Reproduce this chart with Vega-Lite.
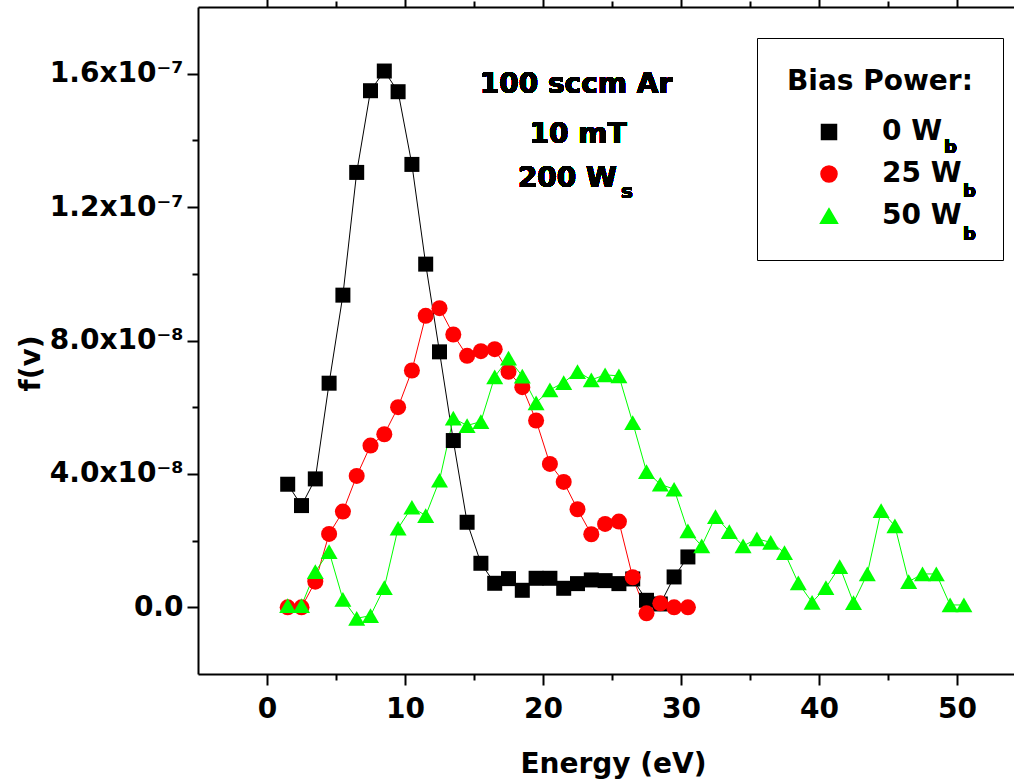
{
  "$schema": "https://vega.github.io/schema/vega-lite/v6.json",
  "width": 816,
  "height": 667,
  "autosize": {"type": "none"},
  "padding": {"left": 198, "top": 7, "right": 0, "bottom": 106},
  "background": "white",
  "config": {"view": {"stroke": null}, "font": "DejaVu Sans"},
  "data": {"values": [
    {"bias": "0 W", "E": 1.5, "f": 3.69e-8},
    {"bias": "0 W", "E": 2.5, "f": 3.05e-8},
    {"bias": "0 W", "E": 3.5, "f": 3.85e-8},
    {"bias": "0 W", "E": 4.5, "f": 6.72e-8},
    {"bias": "0 W", "E": 5.5, "f": 9.36e-8},
    {"bias": "0 W", "E": 6.5, "f": 13.04e-8},
    {"bias": "0 W", "E": 7.5, "f": 15.49e-8},
    {"bias": "0 W", "E": 8.5, "f": 16.08e-8},
    {"bias": "0 W", "E": 9.5, "f": 15.46e-8},
    {"bias": "0 W", "E": 10.5, "f": 13.28e-8},
    {"bias": "0 W", "E": 11.5, "f": 10.29e-8},
    {"bias": "0 W", "E": 12.5, "f": 7.66e-8},
    {"bias": "0 W", "E": 13.5, "f": 5.0e-8},
    {"bias": "0 W", "E": 14.5, "f": 2.55e-8},
    {"bias": "0 W", "E": 15.5, "f": 1.32e-8},
    {"bias": "0 W", "E": 16.5, "f": 0.72e-8},
    {"bias": "0 W", "E": 17.5, "f": 0.86e-8},
    {"bias": "0 W", "E": 18.5, "f": 0.51e-8},
    {"bias": "0 W", "E": 19.5, "f": 0.87e-8},
    {"bias": "0 W", "E": 20.5, "f": 0.87e-8},
    {"bias": "0 W", "E": 21.5, "f": 0.57e-8},
    {"bias": "0 W", "E": 22.5, "f": 0.71e-8},
    {"bias": "0 W", "E": 23.5, "f": 0.82e-8},
    {"bias": "0 W", "E": 24.5, "f": 0.80e-8},
    {"bias": "0 W", "E": 25.5, "f": 0.71e-8},
    {"bias": "0 W", "E": 26.5, "f": 0.85e-8},
    {"bias": "0 W", "E": 27.5, "f": 0.21e-8},
    {"bias": "0 W", "E": 28.5, "f": 0.10e-8},
    {"bias": "0 W", "E": 29.5, "f": 0.91e-8},
    {"bias": "0 W", "E": 30.5, "f": 1.51e-8},
    {"bias": "25 W", "E": 1.5, "f": 0.0},
    {"bias": "25 W", "E": 2.5, "f": 0.0},
    {"bias": "25 W", "E": 3.5, "f": 0.77e-8},
    {"bias": "25 W", "E": 4.5, "f": 2.2e-8},
    {"bias": "25 W", "E": 5.5, "f": 2.87e-8},
    {"bias": "25 W", "E": 6.5, "f": 3.94e-8},
    {"bias": "25 W", "E": 7.5, "f": 4.85e-8},
    {"bias": "25 W", "E": 8.5, "f": 5.19e-8},
    {"bias": "25 W", "E": 9.5, "f": 6.0e-8},
    {"bias": "25 W", "E": 10.5, "f": 7.1e-8},
    {"bias": "25 W", "E": 11.5, "f": 8.74e-8},
    {"bias": "25 W", "E": 12.5, "f": 8.97e-8},
    {"bias": "25 W", "E": 13.5, "f": 8.18e-8},
    {"bias": "25 W", "E": 14.5, "f": 7.54e-8},
    {"bias": "25 W", "E": 15.5, "f": 7.68e-8},
    {"bias": "25 W", "E": 16.5, "f": 7.74e-8},
    {"bias": "25 W", "E": 17.5, "f": 7.06e-8},
    {"bias": "25 W", "E": 18.5, "f": 6.6e-8},
    {"bias": "25 W", "E": 19.5, "f": 5.6e-8},
    {"bias": "25 W", "E": 20.5, "f": 4.3e-8},
    {"bias": "25 W", "E": 21.5, "f": 3.76e-8},
    {"bias": "25 W", "E": 22.5, "f": 2.94e-8},
    {"bias": "25 W", "E": 23.5, "f": 2.19e-8},
    {"bias": "25 W", "E": 24.5, "f": 2.5e-8},
    {"bias": "25 W", "E": 25.5, "f": 2.57e-8},
    {"bias": "25 W", "E": 26.5, "f": 0.9e-8},
    {"bias": "25 W", "E": 27.5, "f": -0.18e-8},
    {"bias": "25 W", "E": 28.5, "f": 0.12e-8},
    {"bias": "25 W", "E": 29.5, "f": 0.0},
    {"bias": "25 W", "E": 30.5, "f": 0.0},
    {"bias": "50 W", "E": 1.5, "f": 0.05e-8},
    {"bias": "50 W", "E": 2.5, "f": 0.05e-8},
    {"bias": "50 W", "E": 3.5, "f": 1.07e-8},
    {"bias": "50 W", "E": 4.5, "f": 1.67e-8},
    {"bias": "50 W", "E": 5.5, "f": 0.24e-8},
    {"bias": "50 W", "E": 6.5, "f": -0.33e-8},
    {"bias": "50 W", "E": 7.5, "f": -0.25e-8},
    {"bias": "50 W", "E": 8.5, "f": 0.59e-8},
    {"bias": "50 W", "E": 9.5, "f": 2.37e-8},
    {"bias": "50 W", "E": 10.5, "f": 3.0e-8},
    {"bias": "50 W", "E": 11.5, "f": 2.75e-8},
    {"bias": "50 W", "E": 12.5, "f": 3.81e-8},
    {"bias": "50 W", "E": 13.5, "f": 5.67e-8},
    {"bias": "50 W", "E": 14.5, "f": 5.45e-8},
    {"bias": "50 W", "E": 15.5, "f": 5.57e-8},
    {"bias": "50 W", "E": 16.5, "f": 6.91e-8},
    {"bias": "50 W", "E": 17.5, "f": 7.47e-8},
    {"bias": "50 W", "E": 18.5, "f": 6.93e-8},
    {"bias": "50 W", "E": 19.5, "f": 6.13e-8},
    {"bias": "50 W", "E": 20.5, "f": 6.52e-8},
    {"bias": "50 W", "E": 21.5, "f": 6.74e-8},
    {"bias": "50 W", "E": 22.5, "f": 7.07e-8},
    {"bias": "50 W", "E": 23.5, "f": 6.82e-8},
    {"bias": "50 W", "E": 24.5, "f": 6.97e-8},
    {"bias": "50 W", "E": 25.5, "f": 6.94e-8},
    {"bias": "50 W", "E": 26.5, "f": 5.54e-8},
    {"bias": "50 W", "E": 27.5, "f": 4.07e-8},
    {"bias": "50 W", "E": 28.5, "f": 3.69e-8},
    {"bias": "50 W", "E": 29.5, "f": 3.54e-8},
    {"bias": "50 W", "E": 30.5, "f": 2.29e-8},
    {"bias": "50 W", "E": 31.5, "f": 1.84e-8},
    {"bias": "50 W", "E": 32.5, "f": 2.72e-8},
    {"bias": "50 W", "E": 33.5, "f": 2.27e-8},
    {"bias": "50 W", "E": 34.5, "f": 1.84e-8},
    {"bias": "50 W", "E": 35.5, "f": 2.05e-8},
    {"bias": "50 W", "E": 36.5, "f": 1.95e-8},
    {"bias": "50 W", "E": 37.5, "f": 1.64e-8},
    {"bias": "50 W", "E": 38.5, "f": 0.73e-8},
    {"bias": "50 W", "E": 39.5, "f": 0.15e-8},
    {"bias": "50 W", "E": 40.5, "f": 0.59e-8},
    {"bias": "50 W", "E": 41.5, "f": 1.22e-8},
    {"bias": "50 W", "E": 42.5, "f": 0.14e-8},
    {"bias": "50 W", "E": 43.5, "f": 1.0e-8},
    {"bias": "50 W", "E": 44.5, "f": 2.9e-8},
    {"bias": "50 W", "E": 45.5, "f": 2.44e-8},
    {"bias": "50 W", "E": 46.5, "f": 0.77e-8},
    {"bias": "50 W", "E": 47.5, "f": 1.0e-8},
    {"bias": "50 W", "E": 48.5, "f": 1.0e-8},
    {"bias": "50 W", "E": 49.5, "f": 0.07e-8},
    {"bias": "50 W", "E": 50.5, "f": 0.07e-8}
  ]},
  "layer": [
    {
      "mark": {"type": "line", "strokeWidth": 1, "clip": true},
      "encoding": {
        "x": {
          "field": "E", "type": "quantitative",
          "scale": {"domain": [-5, 54.13], "nice": false, "zero": false},
          "axis": {
            "orient": "bottom", "zindex": 1,
            "values": [0, 5, 10, 15, 20, 25, 30, 35, 40, 45, 50],
            "title": "Energy (eV)",
            "grid": false,
            "domainColor": "black", "domainWidth": 2,
            "tickColor": "black", "tickWidth": 2,
            "tickSize": {"condition": {"test": "datum.value % 10 === 0", "value": 11}, "value": 6},
            "labelExpr": "datum.value % 10 === 0 ? datum.label : ''",
            "labelFont": "DejaVu Sans", "labelFontSize": 28, "labelFontWeight": "bold", "labelColor": "black",
            "labelPadding": 10, "labelFlush": false, "labelOverlap": false,
            "titleFont": "DejaVu Sans", "titleFontSize": 28, "titleFontWeight": "bold", "titleColor": "black",
            "titleX": 415, "titleY": 98, "titleBaseline": "alphabetic", "titleAlign": "center"
          }
        },
        "y": {
          "field": "f", "type": "quantitative",
          "scale": {"domain": [-2e-8, 1.8e-7], "nice": false, "zero": false},
          "axis": {
            "orient": "left", "zindex": 1,
            "values": [0, 2e-8, 4e-8, 6e-8, 8e-8, 1e-7, 1.2e-7, 1.4e-7, 1.6e-7],
            "title": "f(v)",
            "grid": false,
            "domainColor": "black", "domainWidth": 2,
            "tickColor": "black", "tickWidth": 2,
            "tickSize": {"condition": {"test": "round(datum.value * 1e8) % 4 === 0", "value": 11}, "value": 6},
            "labelExpr": "round(datum.value * 1e8) % 4 !== 0 ? '' : round(datum.value * 1e8) === 0 ? '0.0' : round(datum.value * 1e8) === 4 ? '4.0x10⁻⁸' : round(datum.value * 1e8) === 8 ? '8.0x10⁻⁸' : round(datum.value * 1e8) === 12 ? '1.2x10⁻⁷' : '1.6x10⁻⁷'",
            "labelFont": "DejaVu Sans", "labelFontSize": 28, "labelFontWeight": "bold", "labelColor": "black",
            "labelPadding": 4, "labelFlush": false, "labelOverlap": false, "labelBaseline": "middle",
            "titleFont": "DejaVu Sans", "titleFontSize": 28, "titleFontWeight": "bold", "titleColor": "black",
            "titleX": -167, "titleY": 356, "titleAngle": -90, "titleAlign": "center", "titleBaseline": "middle"
          }
        },
        "color": {
          "field": "bias", "type": "nominal",
          "scale": {"domain": ["0 W", "25 W", "50 W"], "range": ["#000000", "#ff0000", "#00ff00"]},
          "legend": {
            "orient": "none", "legendX": 559, "legendY": 31,
            "title": "Bias Power:", "titleLimit": 400,
            "titleFont": "DejaVu Sans", "titleFontSize": 28, "titleFontWeight": "bold", "titleColor": "black",
            "titlePadding": 22,
            "labelFont": "DejaVu Sans", "labelFontSize": 28, "labelFontWeight": "bold", "labelColor": "black",
            "labelLimit": 300,
            "padding": 30, "strokeColor": "black",
            "symbolOffset": 28, "labelOffset": 39, "rowPadding": 14
          }
        }
      }
    },
    {
      "mark": {"type": "point", "filled": true, "opacity": 1, "clip": true},
      "encoding": {
        "x": {
          "field": "E", "type": "quantitative",
          "axis": {
            "orient": "top", "zindex": 1,
            "values": [0, 5, 10, 15, 20, 25, 30, 35, 40, 45, 50],
            "title": null, "labels": false, "grid": false,
            "domainColor": "black", "domainWidth": 2,
            "tickColor": "black", "tickWidth": 2,
            "tickSize": {"condition": {"test": "datum.value % 10 === 0", "value": 11}, "value": 6}
          }
        },
        "y": {"field": "f", "type": "quantitative", "axis": null},
        "color": {"field": "bias", "type": "nominal"},
        "shape": {
          "field": "bias", "type": "nominal",
          "scale": {"domain": ["0 W", "25 W", "50 W"], "range": ["square", "circle", "triangle-up"]},
          "legend": null
        },
        "size": {
          "field": "bias", "type": "nominal",
          "scale": {"domain": ["0 W", "25 W", "50 W"], "range": [225, 289, 361]},
          "legend": null
        }
      }
    },
    {
      "mark": {"type": "text", "text": "100 sccm Ar", "font": "DejaVu Sans", "fontSize": 28, "fontWeight": "bold", "color": "black", "align": "center", "baseline": "alphabetic"},
      "encoding": {"x": {"datum": 22.39, "type": "quantitative", "axis": null}, "y": {"datum": 1.542e-7, "type": "quantitative", "axis": null}}
    },
    {
      "mark": {"type": "text", "text": "10 mT", "font": "DejaVu Sans", "fontSize": 28, "fontWeight": "bold", "color": "black", "align": "center", "baseline": "alphabetic"},
      "encoding": {"x": {"datum": 22.54, "type": "quantitative", "axis": null}, "y": {"datum": 1.392e-7, "type": "quantitative", "axis": null}}
    },
    {
      "mark": {"type": "text", "text": "200 W", "font": "DejaVu Sans", "fontSize": 28, "fontWeight": "bold", "color": "black", "align": "right", "baseline": "alphabetic"},
      "encoding": {"x": {"datum": 25.36, "type": "quantitative", "axis": null}, "y": {"datum": 1.26e-7, "type": "quantitative", "axis": null}}
    },
    {
      "mark": {"type": "text", "text": "s", "font": "DejaVu Sans", "fontSize": 20, "fontWeight": "bold", "color": "black", "align": "left", "baseline": "alphabetic"},
      "encoding": {"x": {"datum": 25.65, "type": "quantitative", "axis": null}, "y": {"datum": 1.227e-7, "type": "quantitative", "axis": null}}
    },
    {
      "mark": {"type": "text", "text": "b", "font": "DejaVu Sans", "fontSize": 18, "fontWeight": "bold", "color": "black", "align": "left", "baseline": "alphabetic"},
      "encoding": {"x": {"datum": 49.06, "type": "quantitative", "axis": null}, "y": {"datum": 1.362e-7, "type": "quantitative", "axis": null}}
    },
    {
      "mark": {"type": "text", "text": "b", "font": "DejaVu Sans", "fontSize": 18, "fontWeight": "bold", "color": "black", "align": "left", "baseline": "alphabetic"},
      "encoding": {"x": {"datum": 50.43, "type": "quantitative", "axis": null}, "y": {"datum": 1.23e-7, "type": "quantitative", "axis": null}}
    },
    {
      "mark": {"type": "text", "text": "b", "font": "DejaVu Sans", "fontSize": 18, "fontWeight": "bold", "color": "black", "align": "left", "baseline": "alphabetic"},
      "encoding": {"x": {"datum": 50.43, "type": "quantitative", "axis": null}, "y": {"datum": 1.101e-7, "type": "quantitative", "axis": null}}
    }
  ],
  "resolve": {"axis": {"x": "independent", "y": "independent"}}
}
